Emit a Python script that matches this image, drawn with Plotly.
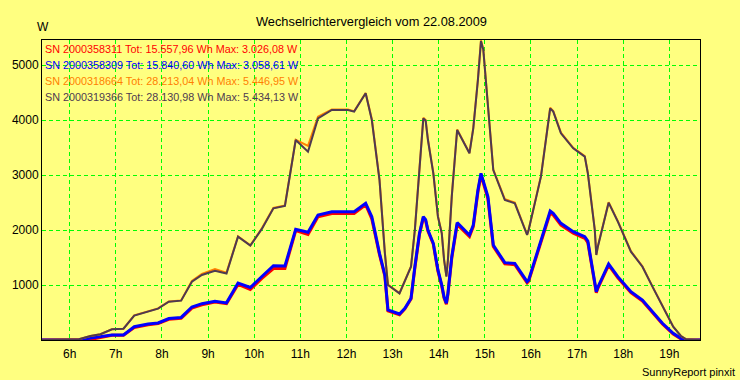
import plotly.graph_objects as go

times = ["05:24", "06:12", "06:27", "06:40", "06:55", "07:10", "07:24", "07:42", "07:55", "08:09",
         "08:25", "08:39", "08:52", "09:09", "09:24", "09:39", "09:55", "10:10", "10:25", "10:40",
         "10:54", "11:10", "11:23", "11:41", "12:02", "12:10", "12:25", "12:33", "12:43", "12:50",
         "12:54", "13:09", "13:16", "13:24", "13:29", "13:35", "13:40", "13:43", "13:46", "13:53",
         "13:59", "14:04", "14:07", "14:10", "14:12", "14:17", "14:24", "14:40", "14:45", "14:51",
         "14:55", "14:58", "15:04", "15:11", "15:26", "15:39", "15:55", "15:57", "16:13", "16:25",
         "16:29", "16:39", "16:55", "17:10", "17:14", "17:23", "17:25", "17:27", "17:41", "17:53",
         "18:10", "18:25", "18:38", "18:51", "19:05", "19:15", "19:22", "19:40"]

sn_358311 = [0, 0, 10, 45, 85, 88, 225, 275, 300, 375,
             395, 580, 640, 690, 660, 1010, 920, 1120, 1300, 1300,
             1990, 1920, 2240, 2300, 2300, 2300, 2460, 2200, 1550, 1160,
             530, 460, 565, 745, 1310, 1920, 2220, 2170, 1980, 1740,
             1250, 980, 760, 650, 830, 1490, 2100, 1880, 2060, 2690,
             3000, 2870, 2570, 1700, 1385, 1370, 1040, 1070, 1790, 2310,
             2270, 2090, 1940, 1850, 1770, 1070, 860, 940, 1360, 1130,
             860, 710, 500, 290, 110, 20, 0, 0]
sn_358309 = [0, 0, 35, 61, 91, 91, 242, 291, 310, 390,
             410, 600, 660, 705, 675, 1036, 955, 1155, 1350, 1345,
             2012, 1960, 2273, 2333, 2333, 2333, 2485, 2242, 1576, 1182,
             545, 473, 576, 758, 1333, 1939, 2242, 2190, 2000, 1758,
             1273, 1000, 780, 667, 848, 1515, 2133, 1909, 2091, 2727,
             3030, 2900, 2606, 1727, 1406, 1394, 1061, 1090, 1818, 2345,
             2303, 2121, 1970, 1879, 1800, 1091, 879, 960, 1382, 1152,
             879, 727, 515, 303, 121, 30, 0, 0]
sn_318664 = [0, 13, 73, 106, 194, 206, 450, 520, 575, 700,
             720, 1075, 1200, 1290, 1225, 1885, 1720, 2030, 2400, 2445,
             3640, 3530, 4060, 4190, 4190, 4160, 4490, 4020, 2920, 1590,
             1010, 850, 1095, 1340, 2010, 3040, 4040, 4000, 3650, 3040,
             2250, 1945, 1460, 1160, 1460, 2615, 3830, 3400, 3860, 4740,
             5447, 5290, 4315, 3100, 2560, 2500, 1915, 2005, 2980, 4225,
             4165, 3770, 3495, 3345, 3040, 2010, 1550, 1705, 2505, 2160,
             1615, 1340, 975, 610, 245, 75, 12, 0]
sn_319366 = [0, 13, 73, 106, 194, 206, 445, 515, 570, 697,
             715, 1061, 1182, 1258, 1210, 1879, 1715, 2020, 2394, 2436,
             3636, 3424, 4030, 4182, 4182, 4152, 4485, 4000, 2909, 1576,
             1000, 848, 1091, 1333, 2000, 3030, 4030, 3990, 3636, 3030,
             2242, 1939, 1455, 1152, 1455, 2606, 3818, 3394, 3848, 4727,
             5434, 5280, 4303, 3091, 2545, 2485, 1909, 2000, 2970, 4212,
             4152, 3758, 3485, 3333, 3030, 2000, 1545, 1697, 2497, 2152,
             1606, 1333, 970, 606, 242, 73, 12, 0]

series_names = ["SN 2000358311", "SN 2000358309", "SN 2000318664", "SN 2000319366"]
totals = ["15.557,96", "15.840,60", "28.213,04", "28.130,98"]
maxima = ["3.026,08", "3.058,61", "5.446,95", "5.434,13"]
colors = ["#ff0000", "#0000ff", "#ff8000", "#4e3a50"]
widths = [3, 3, 2, 2]
hour_ticks = list(range(6, 20))
y_ticks = [1000, 2000, 3000, 4000, 5000]

hours = [int(t[:2]) + int(t[3:]) / 60 for t in times]

FONT = "Arial, Liberation Sans, sans-serif"
fig = go.Figure()
for name, vals, col, w in zip(series_names, [sn_358311, sn_358309, sn_318664, sn_319366], colors, widths):
    fig.add_trace(go.Scatter(x=hours, y=vals, mode="lines", name=name,
                             line=dict(color=col, width=w), showlegend=False))

# legend-like text lines inside plot
for i, (name, tot, mx, col) in enumerate(zip(series_names, totals, maxima, colors)):
    ypix = 48.5 + i * 16.2
    fig.add_annotation(xref="paper", yref="paper", x=0, y=(340 - ypix) / 300,
                       xanchor="left", yanchor="middle", xshift=1, showarrow=False,
                       text=f"{name} Tot: {tot} Wh Max: {mx} W",
                       font=dict(family=FONT, size=10.8, color=col))

fig.add_annotation(xref="paper", yref="paper", x=0.5, y=(340 - 21) / 300,
                   xanchor="center", yanchor="middle", showarrow=False,
                   text="Wechselrichtervergleich vom 22.08.2009",
                   font=dict(family=FONT, size=12.8, color="black"))
fig.add_annotation(xref="paper", yref="paper", x=(40.7 - 40) / 660, y=(340 - 27) / 300,
                   xanchor="center", yanchor="middle", showarrow=False,
                   text="W", font=dict(family=FONT, size=12, color="black"))
fig.add_annotation(xref="paper", yref="paper", x=(737 - 40) / 660, y=(340 - 371.5) / 300,
                   xanchor="right", yanchor="middle", showarrow=False,
                   text="SunnyReport pinxit", font=dict(family=FONT, size=11, color="black"))

fig.update_layout(
    width=740, height=380, autosize=False,
    margin=dict(l=40, r=40, t=40, b=40),
    paper_bgcolor="#ffff80", plot_bgcolor="#ffff80",
    font=dict(family=FONT, size=12, color="black"),
    showlegend=False,
)
fig.update_xaxes(range=[5.4004, 19.6645], tickmode="array", tickvals=hour_ticks,
                 ticktext=[f"{h}h" for h in hour_ticks],
                 showgrid=True, gridcolor="#00ff00", gridwidth=1, griddash="4px,3px",
                 showline=True, linecolor="black", linewidth=1, mirror=True,
                 ticks="", ticklabelstandoff=3, zeroline=False, tickfont=dict(family=FONT, size=12))
fig.update_yaxes(range=[0, 5454.5], tickmode="array", tickvals=y_ticks,
                 ticktext=[str(v) for v in y_ticks],
                 showgrid=True, gridcolor="#00ff00", gridwidth=1, griddash="4px,3px",
                 showline=True, linecolor="black", linewidth=1, mirror=True,
                 ticks="", zeroline=False, tickfont=dict(family=FONT, size=12))

fig.write_html("out.html", config={"displayModeBar": False},
               post_script="document.body.style.margin='0';document.body.style.overflow='hidden';")
